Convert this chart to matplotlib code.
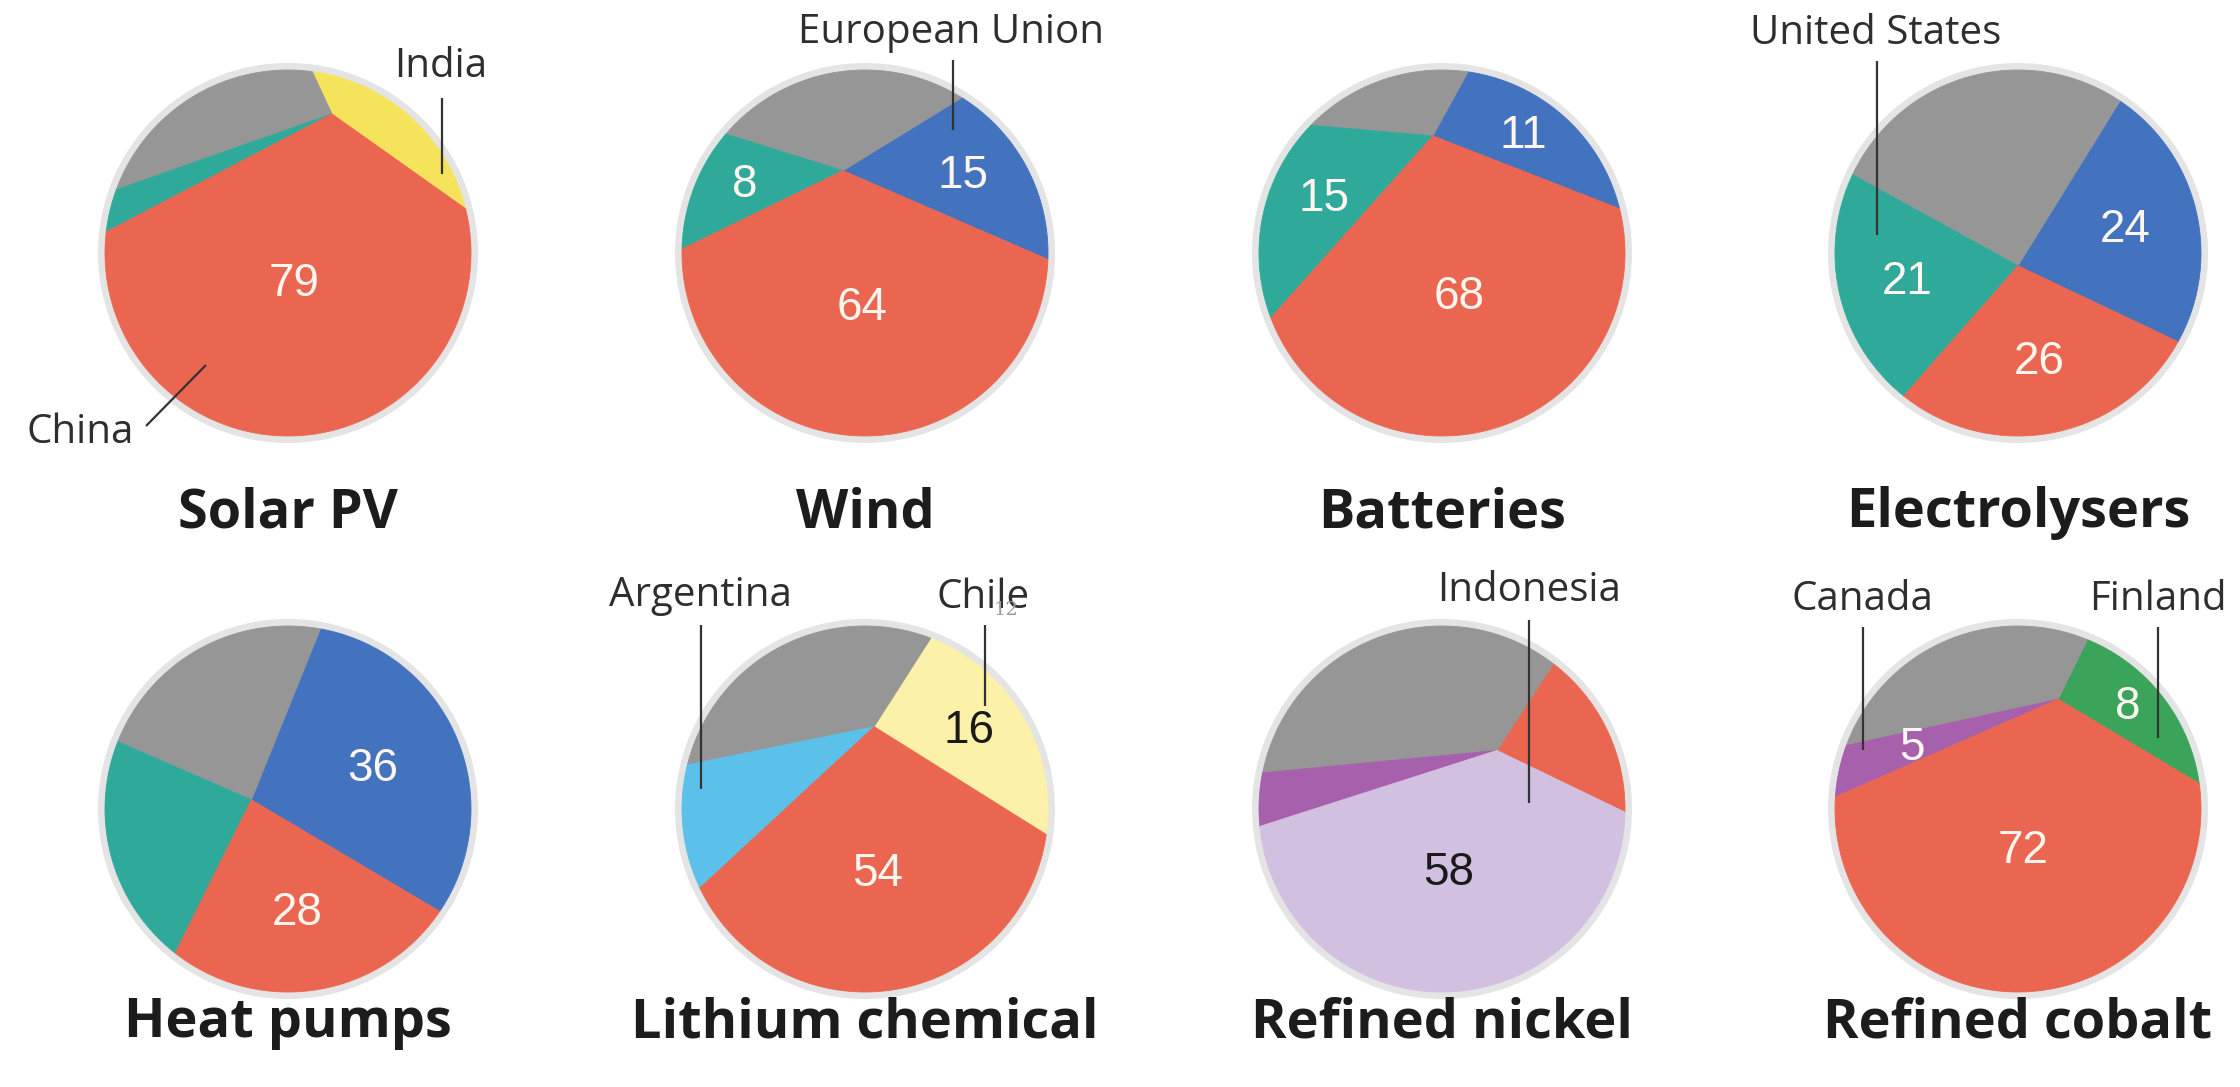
import numpy as np
import matplotlib
matplotlib.use("Agg")
import matplotlib.pyplot as plt
from matplotlib.patches import Polygon, Circle

# colours
RED = "#EB6651"
GREY = "#969696"
TEAL = "#2FAA9A"
BLUE = "#4372BF"
YELLOW = "#F6E35C"
PALE_YELLOW = "#FBF1A9"
SKY = "#5BC0EA"
LAVENDER = "#D2C0E0"
PURPLE = "#A660AC"
GREEN = "#3BA45B"
RING = "#E4E4E4"

# ---- data: shares (%) listed counter-clockwise ----
titles = ["Solar PV", "Wind", "Batteries", "Electrolysers",
          "Heat pumps", "Lithium chemical", "Refined nickel", "Refined cobalt"]

solar_vals = [6, 11, 4, 79]
wind_vals = [15, 13, 8, 64]
battery_vals = [11, 6, 15, 68]
electrolyser_vals = [24, 29, 21, 26]
heatpump_vals = [36, 19, 17, 28]
lithium_vals = [16, 18, 12, 54]
nickel_vals = [9, 27, 6, 58]
cobalt_vals = [8, 15, 5, 72]

solar_cols = [YELLOW, GREY, TEAL, RED]
wind_cols = [BLUE, GREY, TEAL, RED]
battery_cols = [BLUE, GREY, TEAL, RED]
electrolyser_cols = [BLUE, GREY, TEAL, RED]
heatpump_cols = [BLUE, GREY, TEAL, RED]
lithium_cols = [PALE_YELLOW, GREY, SKY, RED]
nickel_cols = [RED, GREY, PURPLE, LAVENDER]
cobalt_cols = [GREEN, GREY, PURPLE, RED]

# which shares get their number printed (0 = none, 1 = light text, 2 = dark text)
solar_show = [0, 0, 0, 1]
wind_show = [1, 0, 1, 1]
battery_show = [1, 0, 1, 1]
electrolyser_show = [1, 0, 1, 1]
heatpump_show = [1, 0, 0, 1]
lithium_show = [2, 0, 0, 1]
nickel_show = [0, 0, 0, 2]
cobalt_show = [1, 0, 1, 1]

all_vals = [solar_vals, wind_vals, battery_vals, electrolyser_vals,
            heatpump_vals, lithium_vals, nickel_vals, cobalt_vals]
all_cols = [solar_cols, wind_cols, battery_cols, electrolyser_cols,
            heatpump_cols, lithium_cols, nickel_cols, cobalt_cols]
all_show = [solar_show, wind_show, battery_show, electrolyser_show,
            heatpump_show, lithium_show, nickel_show, cobalt_show]

# callouts: chart index, name
callout_names = [(0, "India"), (0, "China"), (1, "European Union"),
                 (3, "United States"), (5, "Argentina"), (5, "Chile"),
                 (6, "Indonesia"), (7, "Canada"), (7, "Finland")]

# ---- layout ----
W, H = 2240, 1087
R = 183
col_x = [288, 865, 1442, 2018]
row_y = [253, 809]
title_dy = [274, 228]
start_deg = [14, -2, 14, -29, -34, -8, -1, 8]
hubs = [(0.24, 0.76), (-0.12, 0.45), (-0.05, 0.64), (0.0, -0.07),
        (-0.2, 0.05), (0.05, 0.45), (0.3, 0.32), (0.22, 0.6)]
# text offset (dx, dy) and leader line (x0, y0, x1, y1), relative to circle centre in px
callout_pos = [((153, -186), (154, -155, 154, -79)),
               ((-208, 180), (-142, 173, -82, 112)),
               ((86, -220), (88, -193, 88, -123)),
               ((-142, -219), (-141, -192, -141, -18)),
               ((-165, -213), (-164, -184, -164, -20)),
               ((118, -211), (120, -184, 120, -103)),
               ((87, -218), (87, -189, 87, -6)),
               ((-156, -209), (-155, -182, -155, -59)),
               ((140, -209), (140, -182, 140, -71))]


def slice_angles(vals, start, hub):
    hx, hy = hub
    t0 = np.radians(start)
    p0 = np.array([np.cos(t0), np.sin(t0)])

    def area(t):
        d = p0 - np.array([np.cos(t), np.sin(t)])
        return 0.5 * ((t - t0) + hx * d[1] - hy * d[0])

    cum = np.cumsum(vals) / np.sum(vals) * np.pi
    out = [t0]
    for target in cum[:-1]:
        lo, hi = t0, t0 + 2 * np.pi
        for _ in range(60):
            mid = (lo + hi) / 2
            if area(mid) < target:
                lo = mid
            else:
                hi = mid
        out.append((lo + hi) / 2)
    out.append(t0 + 2 * np.pi)
    return out


def centroid(pts):
    x, y = pts[:, 0], pts[:, 1]
    x1, y1 = np.roll(x, -1), np.roll(y, -1)
    c = x * y1 - x1 * y
    a = c.sum() / 2
    return (x + x1) @ c / (6 * a), (y + y1) @ c / (6 * a)


fig = plt.figure(figsize=(W / 100, H / 100), dpi=100)
ax = fig.add_axes([0, 0, 1, 1])
ax.set_xlim(0, W)
ax.set_ylim(H, 0)
ax.axis("off")

centres = [(col_x[i % 4], row_y[i // 4]) for i in range(8)]

for i in range(8):
    cx, cy = centres[i]
    ax.add_patch(Circle((cx, cy), R + 7, facecolor=RING, edgecolor="none", zorder=1))
    angs = slice_angles(all_vals[i], start_deg[i], hubs[i])
    hx, hy = hubs[i]
    for k, v in enumerate(all_vals[i]):
        t = np.linspace(angs[k], angs[k + 1], 120)
        ux = np.concatenate([[hx], np.cos(t)])
        uy = np.concatenate([[hy], np.sin(t)])
        pts = np.column_stack([cx + R * ux, cy - R * uy])
        ax.add_patch(Polygon(pts, closed=True, facecolor=all_cols[i][k],
                             edgecolor=all_cols[i][k], linewidth=0.6, zorder=2))
        if all_show[i][k]:
            mx, my = centroid(pts)
            ax.text(mx, my, str(v), ha="center", va="center", fontsize=33,
                    family="Liberation Sans",
                    color="#FFF6EF" if all_show[i][k] == 1 else "#1A1A1A", zorder=4)
    ax.text(cx, cy + title_dy[i // 4], titles[i], ha="center", va="baseline",
            fontsize=39, family="Open Sans", fontweight="bold", color="#1C1C1C")

for (i, name), ((tdx, tdy), (x0, y0, x1, y1)) in zip(callout_names, callout_pos):
    cx, cy = centres[i]
    ax.text(cx + tdx, cy + tdy, name, ha="center", va="center", fontsize=29,
            family="Open Sans", color="#2E2E2E", zorder=5)
    ax.plot([cx + x0, cx + x1], [cy + y0, cy + y1], color="#333333", lw=1.6,
            solid_capstyle="butt", zorder=5)

# stray small figure overlapping the Chile label in the original
ax.text(centres[5][0] + 141, centres[5][1] - 199, "12", ha="center", va="center",
        fontsize=14, family="DejaVu Serif", color="#9A9A9A", zorder=6)

fig.savefig("out.png", dpi=100)
